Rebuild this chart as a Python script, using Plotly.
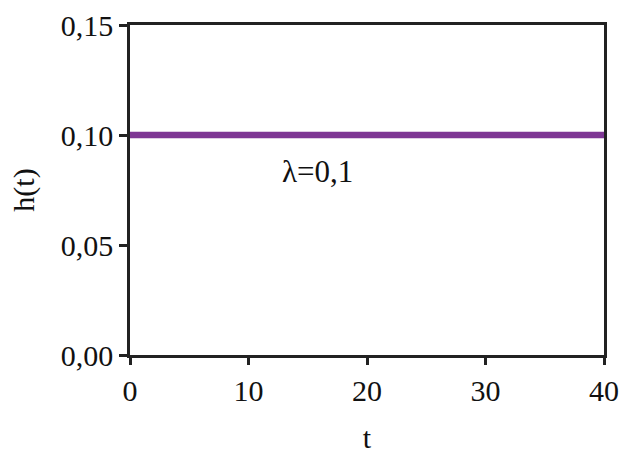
import plotly.graph_objects as go

t_vals = [0, 40]
h_vals = [0.1, 0.1]
x_ticks = [0, 10, 20, 30, 40]
y_ticks = [0.00, 0.05, 0.10, 0.15]
label_text = "λ=0,1"

FAM = "Times New Roman, Liberation Serif, serif"
font = dict(family=FAM, size=30, color="#111")

fig = go.Figure()
fig.add_trace(go.Scatter(x=t_vals, y=h_vals, mode="lines",
                         line=dict(color="#7E3794", width=6.5), showlegend=False))
fig.add_annotation(x=15.8, y=0.0832, text=label_text, showarrow=False,
                   font=dict(family=FAM, size=31, color="#111"))

fig.update_layout(
    width=619, height=454,
    margin=dict(l=130, r=15, t=25, b=99),
    paper_bgcolor="white", plot_bgcolor="white",
    separators=",.",
    font=font,
)
fig.update_xaxes(range=[0, 40], tickvals=x_ticks, ticks="outside", ticklen=7,
                 tickwidth=2.5, tickcolor="#222", showline=True, linecolor="#222",
                 linewidth=2.5, mirror=True, showgrid=False, zeroline=False,
                 automargin=False, ticklabeloverflow="allow",
                 title=dict(text="t", font=font, standoff=34), tickfont=font)
fig.update_yaxes(range=[0, 0.15], tickvals=y_ticks, tickformat=".2f", ticks="outside",
                 ticklen=8, tickwidth=2.5, tickcolor="#222", showline=True,
                 linecolor="#222", linewidth=2.5, mirror=True, showgrid=False,
                 zeroline=False, automargin=False,
                 title=dict(text="h(t)", font=font, standoff=18),
                 tickfont=font)

fig.write_html("out.html", config={"displayModeBar": False},
               post_script="document.body.style.margin='0';document.body.style.overflow='hidden';")
